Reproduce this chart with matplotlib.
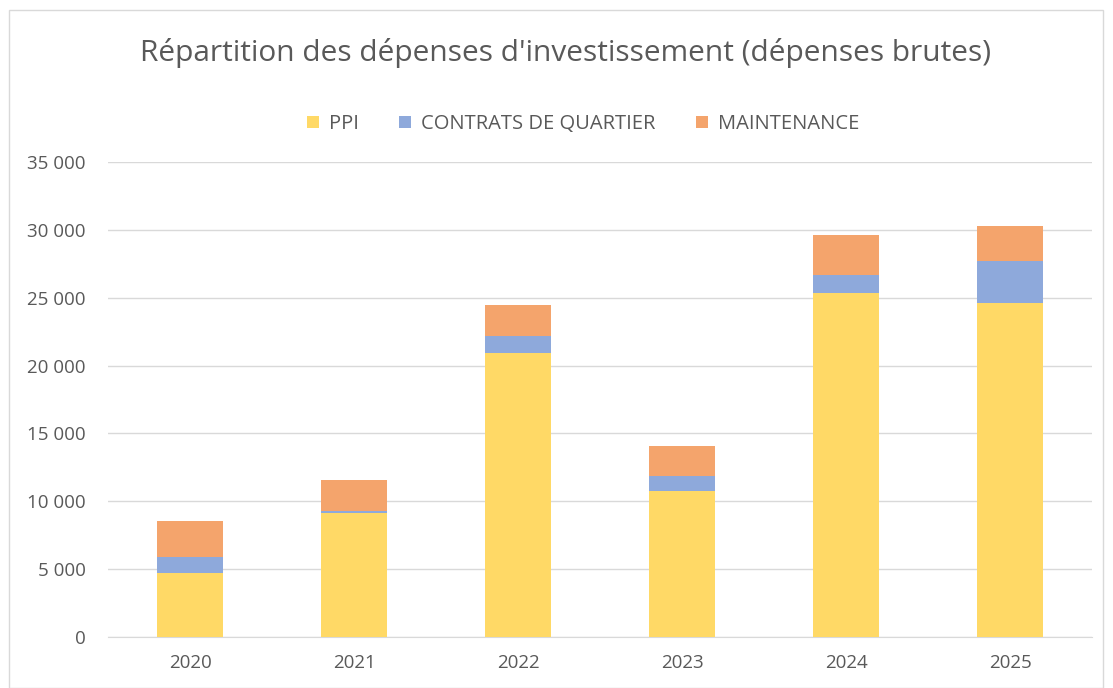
import matplotlib.pyplot as plt
from matplotlib.patches import Rectangle
from matplotlib.ticker import FuncFormatter

years = ["2020", "2021", "2022", "2023", "2024", "2025"]
ppi = [4720, 9170, 20930, 10740, 25350, 24640]
contrats = [1150, 150, 1230, 1100, 1350, 3040]
maintenance = [2660, 2230, 2330, 2210, 2900, 2580]

plt.rcParams['font.family'] = ['Open Sans', 'DejaVu Sans']
grey = '#595959'

fig = plt.figure(figsize=(11.13, 6.88), dpi=100)
ax = fig.add_axes([108 / 1113, 1 - 637 / 688, 984 / 1113, 475 / 688])

x = range(len(years))
w = 0.40
bottom2 = [a + b for a, b in zip(ppi, contrats)]
ax.bar(x, ppi, w, color='#FFD966', label='PPI', zorder=3)
ax.bar(x, contrats, w, bottom=ppi, color='#8EA9DB', label='CONTRATS DE QUARTIER', zorder=3)
ax.bar(x, maintenance, w, bottom=bottom2, color='#F4A46C', label='MAINTENANCE', zorder=3)

ax.set_xlim(-0.5, len(years) - 0.5)
ax.set_ylim(0, 35000)
ax.set_yticks(range(0, 35001, 5000))
ax.yaxis.set_major_formatter(FuncFormatter(lambda v, p: f"{int(v):,}".replace(",", " ")))
ax.set_xticks(list(x))
ax.set_xticklabels(years)
ax.grid(axis='y', color='#D9D9D9', linewidth=1, zorder=0)
for s in ['top', 'right', 'left']:
    ax.spines[s].set_visible(False)
ax.spines['bottom'].set_color('#D9D9D9')
ax.tick_params(axis='both', length=0, colors=grey, labelsize=13.5)
ax.tick_params(axis='y', pad=16)
ax.tick_params(axis='x', pad=12)

fig.text(0.508, 1 - 53 / 688, "Répartition des dépenses d'investissement (dépenses brutes)",
         ha='center', va='center', fontsize=21.5, color=grey)
fig.legend(loc='center', bbox_to_anchor=(0.524, 1 - 124 / 688), ncol=3, frameon=False,
           fontsize=14.5, labelcolor=grey, handlelength=0.6, handleheight=0.6,
           columnspacing=2.0, handletextpad=0.5)

fig.patches.append(Rectangle((9 / 1113, 0), 1 - 19 / 1113, 1 - 10 / 688, transform=fig.transFigure,
                             fill=False, edgecolor='#D9D9D9', linewidth=1))

fig.savefig('out.png', dpi=100)
